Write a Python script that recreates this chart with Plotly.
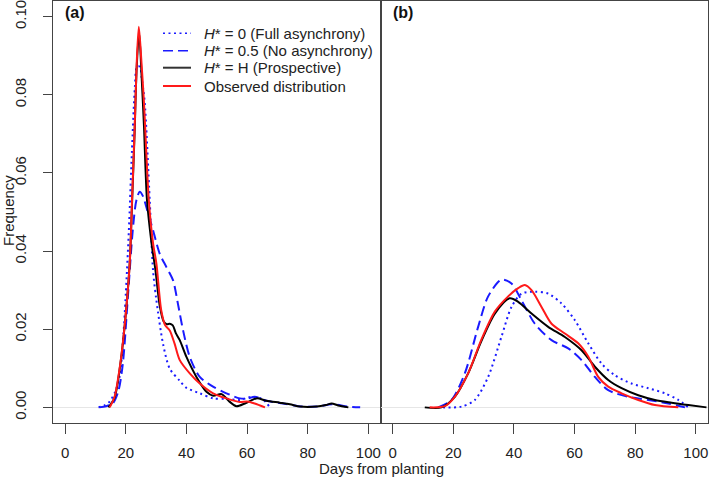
import plotly.graph_objects as go

# ---------------- data ----------------
# Panel (a)
a_dot_x = [11, 13, 14.6, 16.5, 18, 19, 20, 21, 22, 23, 23.7, 24.7, 25.3, 26.2, 27.9, 29, 30.1, 32.3, 34.5, 37.8, 40, 44.4, 48.8, 53, 57.7, 60.5, 62, 65.3, 67.5]
a_dot_y = [0, 0.0005, 0.0014, 0.004, 0.008, 0.016, 0.029, 0.045, 0.065, 0.082, 0.0872, 0.0872, 0.084, 0.0785, 0.053, 0.035, 0.0274, 0.0162, 0.0099, 0.0068, 0.005, 0.0036, 0.0023, 0.0022, 0.0019, 0.0026, 0.0027, 0.002, 0]

a_dash_x = [11.3, 13.5, 15.7, 17.5, 19.0, 20.7, 22.3, 23.5, 24.6, 25.7, 26.8, 29, 31.2, 33.4, 35.6, 37.2, 38.9, 41.1, 44.4, 48.8, 53.2, 57.6, 60, 62.5, 66.4, 71.9, 77, 83, 88, 93, 97.3]
a_dash_y = [0, 0.0003, 0.001, 0.004, 0.011, 0.0283, 0.0453, 0.053, 0.0552, 0.054, 0.0512, 0.0453, 0.0393, 0.0359, 0.0325, 0.0265, 0.0197, 0.0129, 0.0078, 0.0053, 0.0036, 0.0023, 0.0022, 0.0027, 0.0017, 0.001, 0.0003, 0.0002, 0.0008, 0.0002, 0]

a_black_x = [14.3, 16.3, 18.2, 19.9, 21.3, 22.1, 22.9, 23.6, 24.4, 25.2, 26, 27, 28.5, 29.8, 31.2, 32.5, 33.5, 34.5, 35.5, 36.5, 37.8, 40, 43.3, 46.6, 48.8, 51.6, 54.3, 56.5, 59.3, 63.1, 66.4, 70.8, 74.1, 77.5, 83, 86, 87.9, 90, 93.4]
a_black_y = [0, 0.0025, 0.011, 0.023, 0.037, 0.053, 0.07, 0.087, 0.096, 0.085, 0.072, 0.053, 0.042, 0.035, 0.026, 0.022, 0.0213, 0.0214, 0.021, 0.019, 0.0172, 0.0129, 0.0078, 0.004, 0.003, 0.0034, 0.0014, 0.0003, 0.001, 0.0023, 0.0017, 0.0012, 0.0008, 0.0002, 0.0002, 0.0006, 0.001, 0.0005, 0]

a_red_x = [14.7, 16.3, 18.2, 19.9, 21.3, 22.1, 22.9, 23.6, 24.3, 25.2, 26.0, 27.6, 29.0, 30.1, 31.7, 33, 34.5, 36.1, 37.8, 41.1, 44.4, 48.8, 53.2, 57.6, 60, 62.5, 65.9]
a_red_y = [0, 0.0027, 0.0112, 0.0231, 0.0368, 0.0538, 0.0708, 0.088, 0.0974, 0.088, 0.078, 0.053, 0.042, 0.0368, 0.0248, 0.021, 0.0197, 0.0163, 0.0121, 0.0087, 0.0061, 0.0036, 0.0023, 0.0014, 0.0015, 0.001, 0]

# Panel (b)
b_dot_x = [16.6, 22.7, 27.1, 31.5, 35.9, 39.2, 42.5, 46.9, 51.3, 55.7, 60.1, 64.5, 68.9, 73.3, 78.8, 84.3, 89.8, 94.2, 97.5]
b_dot_y = [0, 0.0002, 0.0019, 0.0078, 0.0181, 0.0257, 0.0291, 0.0296, 0.0291, 0.0266, 0.0223, 0.0164, 0.0112, 0.0082, 0.0061, 0.0049, 0.0036, 0.0019, 0]

b_dash_x = [15, 19.4, 23.8, 28.2, 31.5, 35.9, 39.2, 42.5, 46.9, 52.4, 57.9, 62.3, 66.7, 71.1, 77.7, 84.3, 90.9, 96.4]
b_dash_y = [0, 0.0019, 0.0087, 0.0206, 0.0284, 0.0327, 0.0317, 0.0274, 0.0214, 0.0172, 0.0151, 0.0121, 0.0078, 0.0044, 0.0027, 0.0019, 0.001, 0]

b_black_x = [10.6, 16.1, 20.5, 24.9, 29.3, 33.7, 38.6, 41.4, 45.8, 51.3, 56.8, 62.3, 66.7, 71.1, 75.5, 81, 86.5, 92, 97.5, 103.5]
b_black_y = [0, 0, 0.0027, 0.0087, 0.017, 0.024, 0.0279, 0.027, 0.024, 0.0206, 0.018, 0.0146, 0.0104, 0.007, 0.0049, 0.0031, 0.0019, 0.0012, 0.0006, 0]

b_red_x = [12.2, 17.2, 20.5, 24.9, 29.3, 33.7, 38.1, 41.4, 43.6, 45.8, 49.1, 52.4, 56.8, 61.2, 64.5, 67.8, 71.1, 75.5, 81, 86.5, 94.2]
b_red_y = [0, 0.0003, 0.0027, 0.0087, 0.0174, 0.0245, 0.0284, 0.0305, 0.0313, 0.03, 0.0257, 0.0214, 0.0189, 0.0164, 0.013, 0.0078, 0.0053, 0.0036, 0.0019, 0.0006, 0]

x_ticks = [0, 20, 40, 60, 80, 100]
y_ticks = [0.00, 0.02, 0.04, 0.06, 0.08, 0.10]
y_tick_labels = ["0.00", "0.02", "0.04", "0.06", "0.08", "0.10"]

legend_labels = [
    "<i>H</i>* = 0 (Full asynchrony)",
    "<i>H</i>* = 0.5 (No asynchrony)",
    "<i>H</i>* = H (Prospective)",
    "Observed distribution",
]

# ---------------- styles ----------------
BLUE = "#1a1aff"
RED = "#ff1a1a"
BLACK = "#000000"
AXC = "#444444"
FONT = "Liberation Sans, Arial, sans-serif"
DOT = "2px,3.5px"
DASH = "10px,5px"
FS = 15

W, H = 709, 481
L, R, T, B = 53, 1, 1, 58
PW, PH = W - L - R, H - T - B


def px(x):
    return (x - L) / PW


def py(y):
    return 1 - (y - T) / PH


series = [
    ("a", a_dot_x, a_dot_y, BLUE, DOT, 2),
    ("a", a_dash_x, a_dash_y, BLUE, DASH, 2),
    ("a", a_black_x, a_black_y, BLACK, "solid", 2),
    ("a", a_red_x, a_red_y, RED, "solid", 2),
    ("b", b_dot_x, b_dot_y, BLUE, DOT, 2),
    ("b", b_dash_x, b_dash_y, BLUE, DASH, 2),
    ("b", b_black_x, b_black_y, BLACK, "solid", 2),
    ("b", b_red_x, b_red_y, RED, "solid", 2),
]

fig = go.Figure()
for panel, xs, ys, col, dash, w in series:
    fig.add_trace(go.Scatter(
        x=xs, y=ys, mode="lines",
        line=dict(color=col, width=w, dash=dash, shape="spline", smoothing=0.8),
        xaxis="x" if panel == "a" else "x2",
        yaxis="y" if panel == "a" else "y2",
        showlegend=False, hoverinfo="skip",
    ))

common_x = dict(
    range=[-4, 104], tickvals=x_ticks, ticktext=[str(v) for v in x_ticks],
    showgrid=False, zeroline=False, showline=True, mirror=True,
    linecolor=AXC, linewidth=1, ticks="outside", ticklen=10, tickcolor=AXC,
    tickfont=dict(size=FS, color="#222", family=FONT), ticklabelstandoff=6,
    ticklabeloverflow="allow",
)
common_y = dict(
    range=[-0.004, 0.104], showgrid=False, zeroline=True,
    zerolinecolor="#e6e6e6", zerolinewidth=1,
    showline=True, mirror=True, linecolor=AXC, linewidth=1,
)

fig.update_layout(
    width=W, height=H,
    margin=dict(l=L, r=R, t=T, b=B),
    paper_bgcolor="white", plot_bgcolor="white",
    font=dict(family=FONT, size=FS, color="#222"),
    xaxis=dict(domain=[0, 0.5], anchor="y", **common_x),
    xaxis2=dict(domain=[0.5, 1], anchor="y2", **common_x),
    yaxis=dict(domain=[0, 1], anchor="x", tickvals=y_ticks, ticktext=y_tick_labels,
               ticks="outside", ticklen=9, tickcolor=AXC, tickangle=-90,
               tickfont=dict(size=FS, color="#222", family=FONT), ticklabelstandoff=11,
               ticklabeloverflow="allow", **common_y),
    yaxis2=dict(domain=[0, 1], anchor="x2", showticklabels=False, ticks="",
                **common_y),
)

# panel labels and axis titles
fig.add_annotation(x=px(63), y=py(13), xref="paper", yref="paper", text="<b>(a)</b>",
                   showarrow=False, xanchor="left", yanchor="middle", font=dict(size=16, color="#111"))
fig.add_annotation(x=px(391), y=py(13), xref="paper", yref="paper", text="<b>(b)</b>",
                   showarrow=False, xanchor="left", yanchor="middle", font=dict(size=16, color="#111"))
fig.add_annotation(x=px(381), y=py(469), xref="paper", yref="paper", text="Days from planting",
                   showarrow=False, xanchor="center", yanchor="middle", font=dict(size=FS, color="#222"))
fig.add_annotation(x=px(9), y=py(211), xref="paper", yref="paper", text="Frequency", textangle=-90,
                   showarrow=False, xanchor="center", yanchor="middle", font=dict(size=FS, color="#222"))

# legend (drawn manually to match the tight row spacing)
leg_rows = [33.3, 50.7, 67.7, 86]
leg_styles = [(BLUE, DOT, 1.6), (BLUE, DASH, 1.6), ("#333", "solid", 2), (RED, "solid", 2)]
for row, (col, dash, w), lab in zip(leg_rows, leg_styles, legend_labels):
    fig.add_shape(type="line", xref="paper", yref="paper",
                  x0=px(163), x1=px(191), y0=py(row), y1=py(row),
                  line=dict(color=col, width=w, dash=dash))
    fig.add_annotation(x=px(202), y=py(row), xref="paper", yref="paper", text=lab,
                       showarrow=False, xanchor="left", yanchor="middle",
                       font=dict(size=FS, color="#222"))

fig.write_html(
    "out.html",
    config={"displayModeBar": False},
    post_script="document.body.style.margin='0px';document.body.style.padding='0px';",
)
